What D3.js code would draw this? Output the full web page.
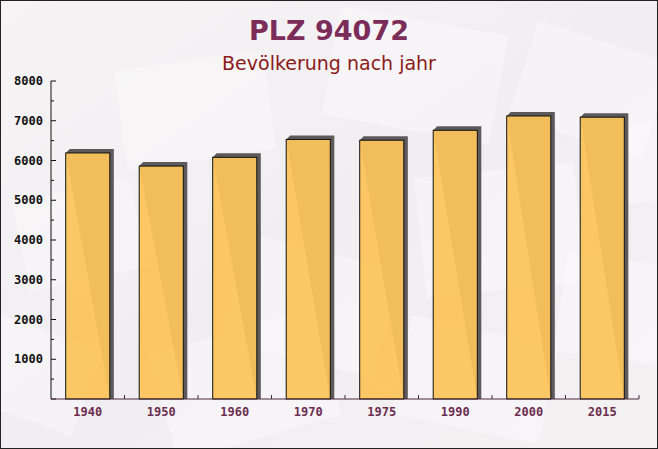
<!DOCTYPE html>
<html>
<head>
<meta charset="utf-8">
<script src="https://cdn.jsdelivr.net/npm/d3@7"></script>
<style>
  html, body { margin: 0; padding: 0; background: #fff; }
  svg { display: block; }
</style>
</head>
<body>
<svg id="chart" width="658" height="449"></svg>
<script>
const years = ["1940", "1950", "1960", "1970", "1975", "1990", "2000", "2015"];
const population = [6190, 5860, 6080, 6530, 6510, 6760, 7120, 7090];
const yTicks = [0, 1000, 2000, 3000, 4000, 5000, 6000, 7000, 8000];
const titleText = "PLZ 94072";
const subtitleText = "Bevölkerung nach jahr";

const W = 658, H = 449;
const m = { top: 81, right: 19, bottom: 50, left: 51 };
const svg = d3.select("#chart");

// background with faint envelope shapes
const defs = svg.append("defs");
const grad = defs.append("linearGradient").attr("id", "bg").attr("x1", 0).attr("y1", 0).attr("x2", 1).attr("y2", 1);
grad.append("stop").attr("offset", "0%").attr("stop-color", "#f6f4f5");
grad.append("stop").attr("offset", "50%").attr("stop-color", "#f1eef1");
grad.append("stop").attr("offset", "100%").attr("stop-color", "#f4f1f3");
svg.append("rect").attr("width", W).attr("height", H).attr("fill", "url(#bg)");

const envelopes = [
  [120, 60, 150, 100, -8], [330, 20, 170, 110, 10], [520, 40, 140, 100, 18],
  [20, 190, 120, 90, -12], [230, 250, 160, 110, 14], [420, 170, 160, 120, -6],
  [560, 260, 120, 100, 8], [160, 330, 170, 110, -16], [400, 330, 150, 100, 12],
  [610, 120, 90, 80, -10], [-20, 330, 110, 90, 20]
];
svg.append("g").selectAll("rect").data(envelopes).join("rect")
  .attr("x", d => d[0]).attr("y", d => d[1])
  .attr("width", d => d[2]).attr("height", d => d[3])
  .attr("transform", d => `rotate(${d[4]},${d[0] + d[2] / 2},${d[1] + d[3] / 2})`)
  .attr("fill", "#ffffff").attr("opacity", 0.3);

const x = d3.scaleBand().domain(years).range([m.left, W - m.right]).paddingInner(0.4).paddingOuter(0.2);
const y = d3.scaleLinear().domain([0, 8000]).range([H - m.bottom, m.top]);

// title
svg.append("text").attr("x", 329).attr("y", 40).attr("text-anchor", "middle")
  .attr("font-family", "DejaVu Sans").attr("font-weight", "bold").attr("font-size", 27)
  .attr("fill", "#7b2c58").text(titleText);
svg.append("text").attr("x", 329).attr("y", 70).attr("text-anchor", "middle")
  .attr("font-family", "DejaVu Sans").attr("font-size", 19)
  .attr("fill", "#8b1a1a").text(subtitleText);

// bars with shadow
const off = 4;
const bars = svg.append("g");
bars.selectAll("path.shadow").data(years).join("path")
  .attr("class", "shadow")
  .attr("fill", "#5e5a5c")
  .attr("d", (d, i) => {
    const x0 = x(d), x1 = x(d) + x.bandwidth(), y0 = y(population[i]), yb = y(0);
    return `M${x0},${y0}L${x0 + off},${y0 - off}L${x1 + off},${y0 - off}L${x1 + off},${yb}L${x1},${yb}Z`;
  });
bars.selectAll("rect.bar").data(years).join("rect")
  .attr("class", "bar")
  .attr("x", d => x(d)).attr("width", x.bandwidth())
  .attr("y", (d, i) => y(population[i]))
  .attr("height", (d, i) => y(0) - y(population[i]))
  .attr("fill", "#fcc35b").attr("fill-opacity", 0.94)
  .attr("stroke", "#111").attr("stroke-width", 1);

// y axis
const yAxis = svg.append("g").attr("transform", `translate(${m.left},0)`);
yAxis.append("line").attr("y1", y(0)).attr("y2", y(8000)).attr("stroke", "#111");
const minor = d3.range(500, 8000, 1000);
yAxis.selectAll("line.minor").data(minor).join("line").attr("class", "minor")
  .attr("x1", 0).attr("x2", 3).attr("y1", d => y(d)).attr("y2", d => y(d)).attr("stroke", "#111");
yAxis.selectAll("line.major").data(yTicks).join("line").attr("class", "major")
  .attr("x1", 0).attr("x2", 5).attr("y1", d => y(d)).attr("y2", d => y(d)).attr("stroke", "#111");
yAxis.selectAll("text").data(yTicks.filter(d => d > 0)).join("text")
  .attr("x", -8).attr("y", d => y(d) + 4).attr("text-anchor", "end")
  .attr("font-family", "DejaVu Sans Mono").attr("font-weight", "bold").attr("font-size", 12)
  .attr("fill", "#111").text(d => d);

// x axis
const xAxis = svg.append("g").attr("transform", `translate(0,${y(0)})`);
xAxis.append("line").attr("x1", m.left).attr("x2", W - m.right).attr("stroke", "#4a2a3a");
const step = x.step();
const bounds = years.map((d, i) => x(d) + x.bandwidth() + (step - x.bandwidth()) / 2);
xAxis.selectAll("line.tick").data(bounds).join("line").attr("class", "tick")
  .attr("x1", d => d).attr("x2", d => d).attr("y1", 0).attr("y2", -4).attr("stroke", "#4a2a3a");
xAxis.selectAll("text").data(years).join("text")
  .attr("x", d => x(d) + x.bandwidth() / 2).attr("y", 17).attr("text-anchor", "middle")
  .attr("font-family", "DejaVu Sans Mono").attr("font-weight", "bold").attr("font-size", 12)
  .attr("fill", "#6b2d4f").text(d => d);

// frame
svg.append("rect").attr("x", 0.5).attr("y", 0.5).attr("width", W - 1).attr("height", H - 1)
  .attr("fill", "none").attr("stroke", "#222");
</script>
</body>
</html>
